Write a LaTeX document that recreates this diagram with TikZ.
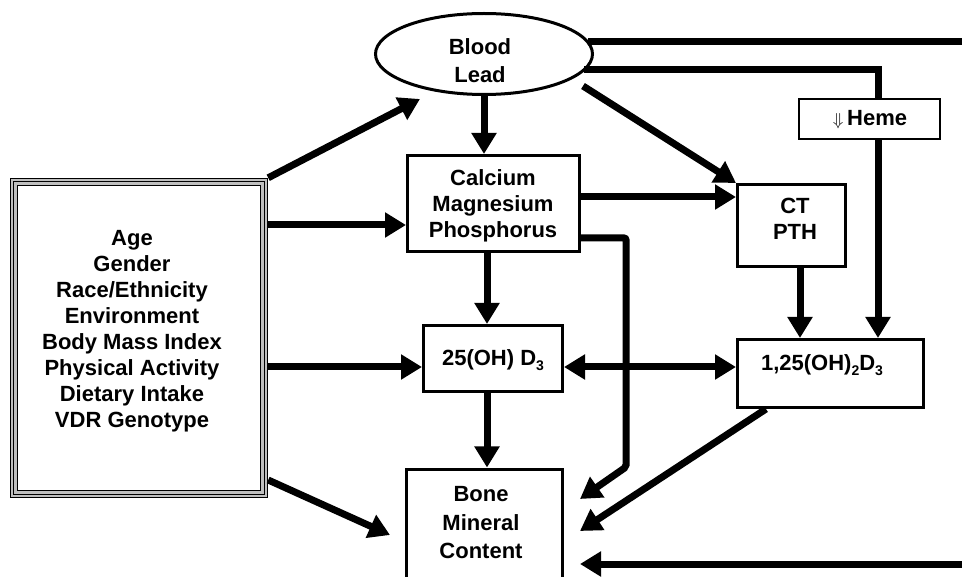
\documentclass[tikz,border=0pt]{standalone}
\usepackage{fontspec}
\setmainfont{Liberation Sans}
\usetikzlibrary{arrows.meta,shapes.geometric,calc}
\newcommand{\mysub}[1]{\raisebox{-5pt}{\fontsize{14}{14}\selectfont #1}}
\begin{document}
\begin{tikzpicture}[x=1pt,y=-1pt,
  txt/.style={font=\bfseries\fontsize{22}{26}\selectfont, align=center, inner sep=0pt},
  boxn/.style={draw, line width=3pt, inner sep=0pt},
  tipA/.tip={Triangle[length=21pt,width=24pt]},
  arr/.style={line width=7pt, -tipA},
  ln/.style={line width=7pt},
]
\clip (0,0) rectangle (962,577);
\fill[white] (0,0) rectangle (962,577);

% boxes
\node[draw, ellipse, line width=3pt, minimum width=217pt, minimum height=81pt, inner sep=0pt] (lead) at (484,54) {};
\node[boxn, minimum width=172pt, minimum height=96pt] (calc) at (493.5,203.5) {};
\node[boxn, minimum width=108pt, minimum height=82pt] (ctpth) at (791.5,225.5) {};
\node[boxn, minimum width=139pt, minimum height=66pt] (ohd) at (493,358.5) {};
\node[boxn, minimum width=186pt, minimum height=68pt] (dihyd) at (830.5,373.5) {};
\node[boxn, minimum width=156pt, minimum height=130pt] (bone) at (484.5,534) {};
\node[draw, line width=2.5pt, minimum width=141pt, minimum height=40pt, inner sep=0pt] (heme) at (869.5,119) {};
\node[draw, line width=1.4pt, fill=black!25, minimum width=257pt, minimum height=319pt, inner sep=0pt] (factors) at (139,338) {};
\draw[line width=1.4pt] ([shift={(3.8,3.8)}]factors.north west) rectangle ([shift={(-3.8,-3.8)}]factors.south east);
\draw[line width=1.4pt, fill=white] ([shift={(7.6,8)}]factors.north west) rectangle ([shift={(-7.6,-8)}]factors.south east);

% texts
\node[txt] (factorstxt) at (132,331) {Age\\Gender\\Race/Ethnicity\\Environment\\Body Mass Index\\Physical Activity\\Dietary Intake\\VDR Genotype};
\node[txt, font=\bfseries\fontsize{22}{28}\selectfont] (leadtxt) at (480,61) {Blood\\Lead};
\node[txt] (calctxt) at (493,206) {Calcium\\Magnesium\\Phosphorus};
\node[txt] (cttxt) at (795,218.5) {CT\\PTH};
\node[txt] (ohdtxt) at (493,360) {25(OH) D\mysub{3}};
\node[txt] (dihydtxt) at (822,365.5) {1,25(OH)\mysub{2}D\mysub{3}};
\node[txt] (hemetxt) at (870,119.5) {{\fontsize{19}{19}\selectfont$\Downarrow$}\,Heme};
\node[txt, font=\bfseries\fontsize{22}{28.5}\selectfont] (bonetxt) at (481,523) {Bone\\Mineral\\Content};

% free ends
\coordinate (leadin) at (420,99);
\coordinate (leadout) at (583,86);
\coordinate (leadtop) at (588,42);
\coordinate (leadmid) at (584,70);
\coordinate (edgeA) at (975,42);
\coordinate (edgeB) at (975,564);
\coordinate (bonein0) at (390,535);
\coordinate (bonein1) at (580,499);
\coordinate (bonein2) at (580,531);
\coordinate (bonein3) at (580,564);
\coordinate (calcbend) at (626,238);
\coordinate (calcdown) at (626,467);
\coordinate (hemebend) at (878,70);

% connectors
\draw[arr] (factors.north east) -- (leadin);
\draw[arr] (factors.east |- 0,225) -- (calc.west |- 0,225);
\draw[arr] (factors.east |- 0,367) -- (ohd.west |- 0,367);
\draw[arr] (factors.east |- 0,480) -- (bonein0);
\draw[arr] (lead.south) -- (lead.south |- calc.north);
\draw[arr] (calc.south -| 487,0) -- (ohd.north -| 487,0);
\draw[arr] (ohd.south -| 487,0) -- (bone.north -| 487,0);
\draw[arr] (leadout) -- (ctpth.north west);
\draw[arr] (calc.east |- 0,197) -- (ctpth.west |- 0,197);
\draw[arr] (ctpth.south -| 800,0) -- (dihyd.north -| 800,0);
\draw[ln] (leadtop) -- (edgeA);
\draw[ln] (leadmid) -- (hemebend) -- (heme.north -| hemebend);
\draw[arr] (heme.south -| hemebend) -- (dihyd.north -| hemebend);
\draw[arr, tipA-tipA] (ohd.east |- 0,367) -- (dihyd.west |- 0,367);
\draw[arr, rounded corners=2pt] (calc.east |- calcbend) -- (calcbend) -- (calcdown) -- (bonein1);
\draw[arr] (dihyd.south -| 766,0) -- (bonein2);
\draw[arr] (edgeB) -- (bonein3);
\end{tikzpicture}
\end{document}
